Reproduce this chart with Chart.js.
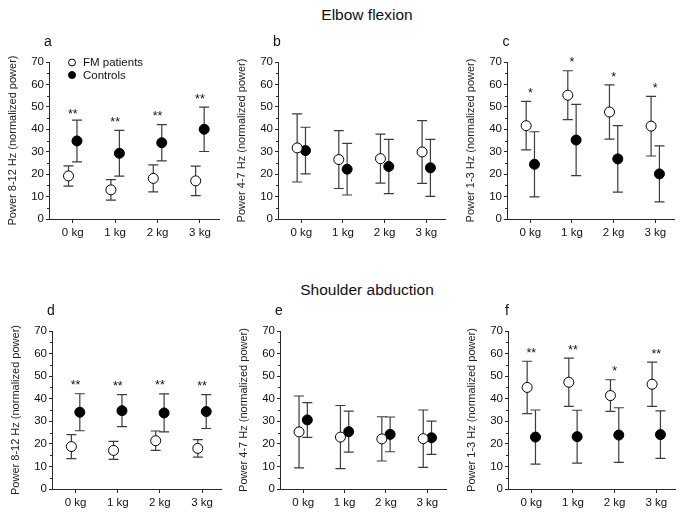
<!DOCTYPE html>
<html>
<head>
<meta charset="utf-8">
<script src="https://cdn.jsdelivr.net/npm/chart.js@4.4.1/dist/chart.umd.min.js"></script>
<style>
body { margin: 0; background: #fff; font-family: "Liberation Sans", Arial, sans-serif; }
#wrap { position: relative; width: 685px; height: 518px; overflow: hidden; background: #fff; }
#wrap canvas { position: absolute; }
.head { position: absolute; width: 300px; left: 217px; text-align: center; font-size: 15.5px; color: #111; line-height: 17px; }
</style>
</head>
<body>
<div id="wrap">
  <div class="head" style="top:6px">Elbow flexion</div>
  <div class="head" style="top:281px">Shoulder abduction</div>
  <canvas id="pa"></canvas>
  <canvas id="pb"></canvas>
  <canvas id="pc"></canvas>
  <canvas id="pd"></canvas>
  <canvas id="pe"></canvas>
  <canvas id="pf"></canvas>
</div>
<script>
var loads = ['0 kg', '1 kg', '2 kg', '3 kg'];
var seriesNames = ['FM patients', 'Controls'];

// a - elbow flexion, 8-12 Hz
var fmA = [19.2, 13.0, 18.1, 17.0];
var fmSdA = [4.5, 4.6, 6.0, 6.6];
var ctA = [34.8, 29.3, 34.0, 40.0];
var ctSdA = [9.3, 10.2, 8.1, 9.9];
var sigA = ['**', '**', '**', '**'];
var sigYA = [48.0, 44.4, 47.2, 54.7];

// b - elbow flexion, 4-7 Hz
var fmB = [31.7, 26.5, 26.9, 29.9];
var fmSdB = [15.2, 12.9, 10.9, 14.0];
var ctB = [30.5, 22.2, 23.4, 22.8];
var ctSdB = [10.4, 11.5, 12.1, 12.7];

// c - elbow flexion, 1-3 Hz
var fmC = [41.6, 55.2, 47.7, 41.4];
var fmSdC = [10.8, 10.9, 12.1, 13.3];
var ctC = [24.4, 35.2, 26.8, 20.1];
var ctSdC = [14.5, 15.9, 14.8, 12.5];
var sigC = ['*', '*', '*', '*'];
var sigYC = [57.4, 71.2, 64.8, 59.9];

// d - shoulder abduction, 8-12 Hz
var fmD = [18.8, 17.1, 21.4, 18.0];
var fmSdD = [5.3, 4.0, 4.3, 3.9];
var ctD = [34.0, 34.7, 33.7, 34.3];
var ctSdD = [8.2, 7.1, 8.4, 7.5];
var sigD = ['**', '**', '**', '**'];
var sigYD = [47.4, 46.8, 47.4, 46.8];

// e - shoulder abduction, 4-7 Hz
var fmE = [25.3, 23.0, 22.2, 22.3];
var fmSdE = [15.9, 14.0, 9.8, 12.7];
var ctE = [30.6, 25.4, 24.2, 22.7];
var ctSdE = [7.7, 9.1, 7.7, 7.4];

// f - shoulder abduction, 1-3 Hz
var fmF = [45.0, 47.3, 41.4, 46.4];
var fmSdF = [11.6, 10.7, 7.0, 9.8];
var ctF = [23.0, 23.2, 23.9, 24.1];
var ctSdF = [12.0, 11.7, 12.1, 10.5];
var sigF = ['**', '**', '*', '**'];
var sigYF = [61.6, 62.8, 53.5, 61.3];

var FONT = '"Liberation Sans", Arial, sans-serif';
var INK = '#2a2a2a';

// chart area of each panel on the page (L, T, R, B)
var panels = [
    { id: 'pa', L: 49, T: 62, R: 219, B: 219, letter: 'a', ytitle: 'Power 8-12 Hz (normalized power)', fm: fmA, fmSd: fmSdA, ct: ctA, ctSd: ctSdA, sig: sigA, sigY: sigYA, legend: true },
    { id: 'pb', L: 278, T: 62, R: 445, B: 219, letter: 'b', ytitle: 'Power 4-7 Hz (normalized power)', fm: fmB, fmSd: fmSdB, ct: ctB, ctSd: ctSdB, sig: [], sigY: [] },
    { id: 'pc', L: 507, T: 62, R: 674, B: 219, letter: 'c', ytitle: 'Power 1-3 Hz (normalized power)', fm: fmC, fmSd: fmSdC, ct: ctC, ctSd: ctSdC, sig: sigC, sigY: sigYC },
    { id: 'pd', L: 52, T: 331, R: 221, B: 489, letter: 'd', ytitle: 'Power 8-12 Hz (normalized power)', fm: fmD, fmSd: fmSdD, ct: ctD, ctSd: ctSdD, sig: sigD, sigY: sigYD },
    { id: 'pe', L: 280, T: 331, R: 446, B: 489, letter: 'e', ytitle: 'Power 4-7 Hz (normalized power)', fm: fmE, fmSd: fmSdE, ct: ctE, ctSd: ctSdE, sig: [], sigY: [] },
    { id: 'pf', L: 508, T: 331, R: 675, B: 489, letter: 'f', ytitle: 'Power 1-3 Hz (normalized power)', fm: fmF, fmSd: fmSdF, ct: ctF, ctSd: ctSdF, sig: sigF, sigY: sigYF }
];

var YW = 46, XH = 30, PADT = 30, PADR = 8;

var decor = {
    id: 'decor',
    beforeDatasetsDraw: function (chart) {
        // error bars behind the markers
        var ctx = chart.ctx, xs = chart.scales.x, ys = chart.scales.y;
        ctx.save();
        ctx.strokeStyle = '#3c3c3c';
        ctx.lineWidth = 1.2;
        chart.data.datasets.forEach(function (ds) {
            ds.data.forEach(function (p, i) {
                var x = xs.getPixelForValue(p.x);
                var hi = ys.getPixelForValue(p.y + ds.sd[i]);
                var lo = ys.getPixelForValue(p.y - ds.sd[i]);
                ctx.beginPath();
                ctx.moveTo(x, hi); ctx.lineTo(x, lo);
                ctx.moveTo(x - 5, hi); ctx.lineTo(x + 5, hi);
                ctx.moveTo(x - 5, lo); ctx.lineTo(x + 5, lo);
                ctx.stroke();
            });
        });
        ctx.restore();
    },
    afterDraw: function (chart, args, opts) {
        var ctx = chart.ctx, xs = chart.scales.x, ys = chart.scales.y;
        var area = chart.chartArea;
        ctx.save();
        // minor ticks on the y axis
        ctx.strokeStyle = INK;
        ctx.lineWidth = 1;
        for (var v = 5; v < 70; v += 10) {
            var py = Math.round(ys.getPixelForValue(v)) + 0.5;
            ctx.beginPath();
            ctx.moveTo(area.left, py); ctx.lineTo(area.left - 2, py);
            ctx.stroke();
        }
        // significance marks
        ctx.fillStyle = '#111';
        ctx.font = '12.5px ' + FONT;
        ctx.textAlign = 'center';
        ctx.textBaseline = 'alphabetic';
        opts.sig.forEach(function (s, i) {
            ctx.fillText(s, xs.getPixelForValue(i), ys.getPixelForValue(opts.sigY[i]) + 7);
        });
        // panel letter
        ctx.font = '14px ' + FONT;
        ctx.textBaseline = 'middle';
        ctx.fillText(opts.letter, area.left - 1, area.top - 20);
        // legend
        if (opts.legend) {
            ctx.textAlign = 'left';
            ctx.font = '11.5px ' + FONT;
            chart.data.datasets.forEach(function (ds, k) {
                var cy = area.top + 0.5 + k * 12.5;
                ctx.beginPath();
                ctx.arc(area.left + 23, cy, 3.5, 0, Math.PI * 2);
                ctx.fillStyle = ds.pointBackgroundColor;
                ctx.fill();
                ctx.strokeStyle = '#000';
                ctx.lineWidth = 1;
                ctx.stroke();
                ctx.fillStyle = '#111';
                ctx.fillText(ds.label, area.left + 34, cy + 0.5);
            });
        }
        ctx.restore();
    }
};

function pts(vals, shift) {
    return vals.map(function (v, i) { return { x: i + shift, y: v }; });
}

panels.forEach(function (p) {
    var cv = document.getElementById(p.id);
    var w = p.R - p.L + YW + PADR;
    var h = p.B - p.T + PADT + XH;
    cv.width = w; cv.height = h;
    cv.style.width = w + 'px'; cv.style.height = h + 'px';
    cv.style.left = (p.L - YW) + 'px';
    cv.style.top = (p.T - PADT) + 'px';

    new Chart(cv, {
        type: 'line',
        data: {
            datasets: [
                {
                    label: seriesNames[0],
                    data: pts(p.fm, -0.1),
                    sd: p.fmSd,
                    showLine: false,
                    pointRadius: 5,
                    pointBorderWidth: 1,
                    pointBorderColor: '#000',
                    pointBackgroundColor: '#fff'
                },
                {
                    label: seriesNames[1],
                    data: pts(p.ct, 0.1),
                    sd: p.ctSd,
                    showLine: false,
                    pointRadius: 5,
                    pointBorderWidth: 1,
                    pointBorderColor: '#000',
                    pointBackgroundColor: '#000'
                }
            ]
        },
        plugins: [decor],
        options: {
            responsive: false,
            animation: false,
            events: [],
            layout: { padding: { top: PADT, right: PADR, left: 0, bottom: 0 } },
            plugins: {
                legend: { display: false },
                tooltip: { enabled: false },
                decor: { letter: p.letter, sig: p.sig, sigY: p.sigY, legend: !!p.legend }
            },
            scales: {
                x: {
                    type: 'linear',
                    min: -0.56,
                    max: 3.45,
                    afterBuildTicks: function (s) {
                        s.ticks = loads.map(function (_, i) { return { value: i }; });
                    },
                    afterFit: function (s) { s.height = XH; },
                    ticks: {
                        callback: function (v) { return loads[v]; },
                        autoSkip: false,
                        maxRotation: 0,
                        padding: 3,
                        color: '#111',
                        font: { family: FONT, size: 11.5 }
                    },
                    grid: { drawOnChartArea: false, drawTicks: true, tickLength: 4, color: INK },
                    border: { color: INK, width: 1 }
                },
                y: {
                    min: 0,
                    max: 70,
                    afterFit: function (s) { s.width = YW; },
                    ticks: {
                        stepSize: 10,
                        padding: 2,
                        color: '#111',
                        font: { family: FONT, size: 11.5 }
                    },
                    grid: { drawOnChartArea: false, drawTicks: true, tickLength: 3, color: INK },
                    border: { color: INK, width: 1 },
                    title: {
                        display: true,
                        text: p.ytitle,
                        color: '#222',
                        font: { family: FONT, size: 11 },
                        padding: { top: 3, bottom: 0 }
                    }
                }
            }
        }
    });
});
</script>
</body>
</html>
